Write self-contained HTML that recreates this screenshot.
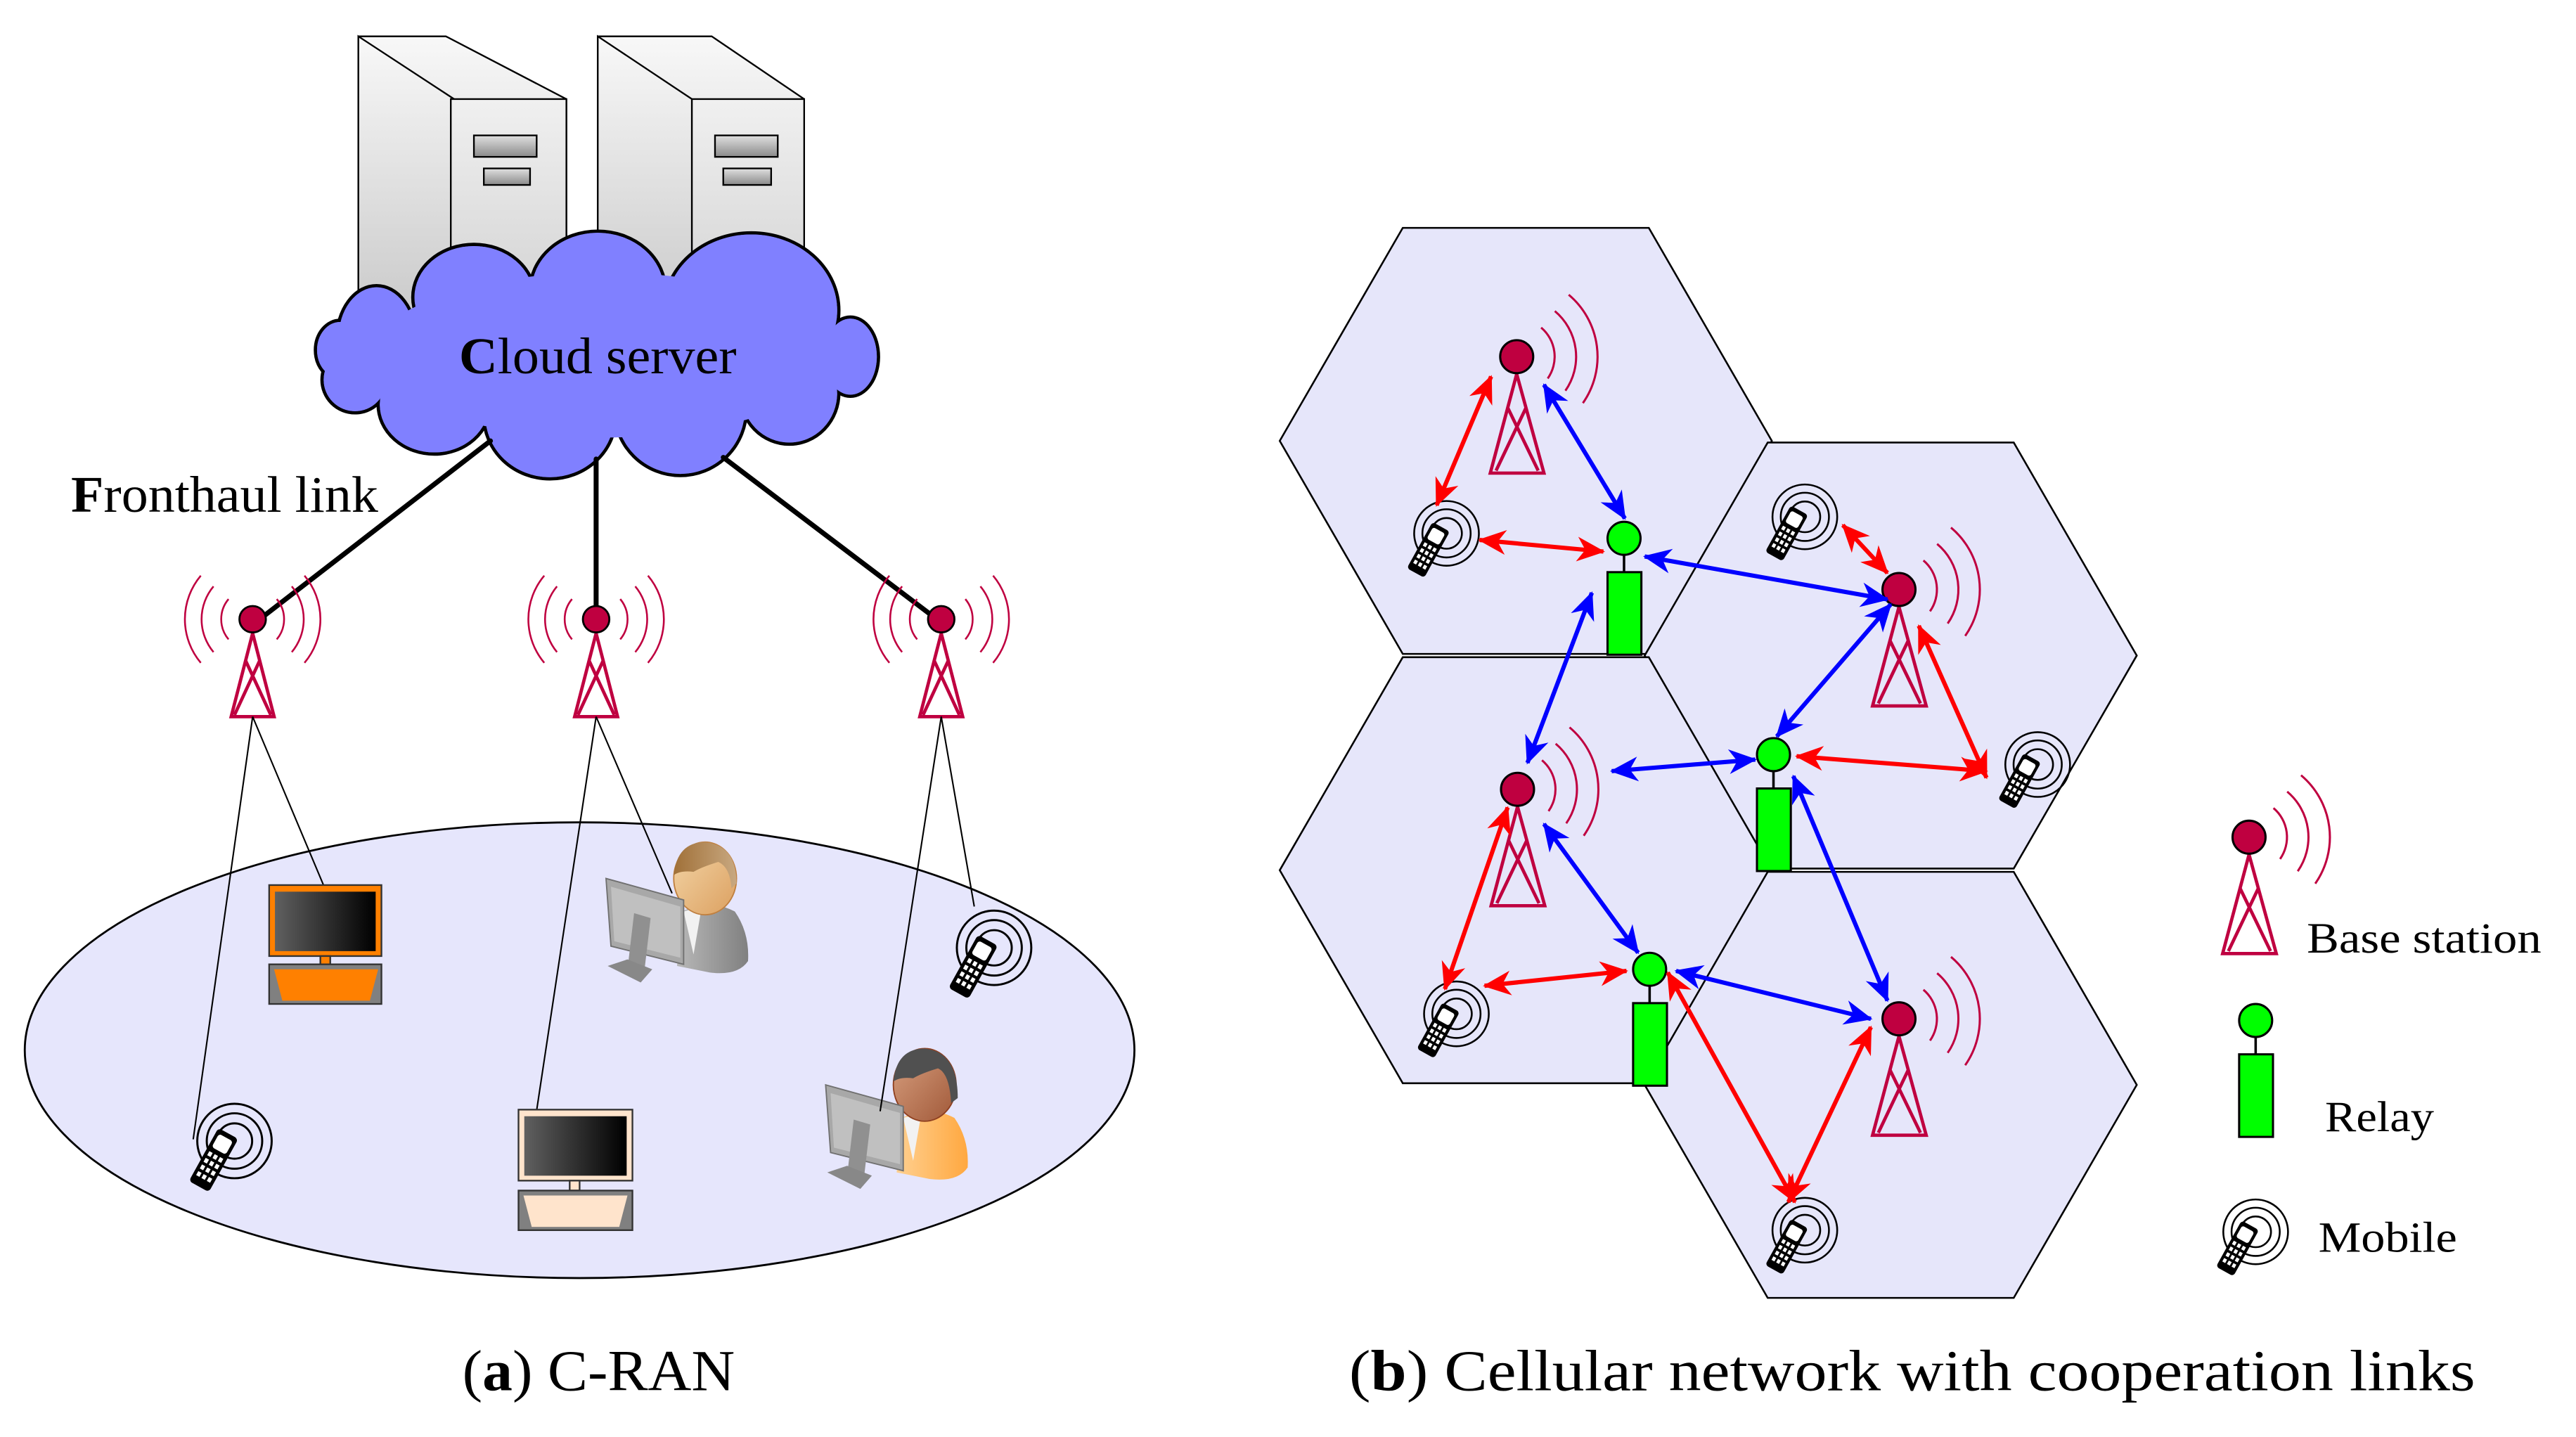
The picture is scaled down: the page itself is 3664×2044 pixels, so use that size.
<!DOCTYPE html>
<html><head><meta charset="utf-8"><style>html,body{margin:0;padding:0;background:#fff}svg{display:block}</style></head>
<body>
<svg xmlns="http://www.w3.org/2000/svg" width="3664" height="2044" viewBox="0 0 1560 870.25" preserveAspectRatio="none" font-family="'Liberation Serif', serif">
<defs>
<linearGradient id="srvL" x1="0" y1="0" x2="0" y2="1"><stop offset="0" stop-color="#f8f8f8"/><stop offset="1" stop-color="#c8c8c8"/></linearGradient>
<linearGradient id="srvF" x1="0" y1="0" x2="0" y2="1"><stop offset="0" stop-color="#f0f0f0"/><stop offset="1" stop-color="#d0d0d0"/></linearGradient>
<linearGradient id="slot" x1="0" y1="0" x2="0" y2="1"><stop offset="0" stop-color="#e0e0e0"/><stop offset="1" stop-color="#8a8a8a"/></linearGradient>
<linearGradient id="scr" x1="0" y1="0" x2="1" y2="0"><stop offset="0" stop-color="#606060"/><stop offset="1" stop-color="#000"/></linearGradient>
<linearGradient id="gray" x1="0" y1="0" x2="1" y2="0"><stop offset="0" stop-color="#b8b8b8"/><stop offset="1" stop-color="#808080"/></linearGradient>
<linearGradient id="skin1" x1="0" y1="0" x2="1" y2="1"><stop offset="0" stop-color="#f3d6a8"/><stop offset="1" stop-color="#dca060"/></linearGradient>
<linearGradient id="skin2" x1="0" y1="0" x2="1" y2="1"><stop offset="0" stop-color="#d8a080"/><stop offset="1" stop-color="#a05838"/></linearGradient>
<linearGradient id="hair1" x1="0" y1="0" x2="1" y2="0"><stop offset="0" stop-color="#a07038"/><stop offset="1" stop-color="#c8a880"/></linearGradient>
<linearGradient id="orng" x1="0" y1="0" x2="1" y2="0"><stop offset="0" stop-color="#ffd090"/><stop offset="1" stop-color="#ffa840"/></linearGradient>
<marker id="ar" viewBox="0 -8 17 16" refX="16" refY="0" markerWidth="17" markerHeight="16" markerUnits="userSpaceOnUse" orient="auto-start-reverse"><path d="M17,0 L0,-7.5 L5,0 L0,7.5 z" fill="#ff0000"/></marker>
<marker id="ab" viewBox="0 -8 17 16" refX="16" refY="0" markerWidth="17" markerHeight="16" markerUnits="userSpaceOnUse" orient="auto-start-reverse"><path d="M17,0 L0,-7.5 L5,0 L0,7.5 z" fill="#0000ff"/></marker>
<g id="mob">
 <circle r="19.6" fill="none" stroke="#000" stroke-width="1.1"/>
 <circle r="14.6" fill="none" stroke="#000" stroke-width="1.1"/>
 <circle r="9.3" fill="none" stroke="#000" stroke-width="1.1"/>
 <g transform="translate(-11,10) rotate(29)">
  <rect x="-6" y="-16" width="12" height="32" rx="2" fill="#000"/>
  <rect x="-4.2" y="-13.5" width="8.4" height="8" rx="1.5" fill="#fff"/>
  <g fill="#fff">
   <rect x="-4.2" y="-3" width="2" height="2.4"/><rect x="-1" y="-3" width="2" height="2.4"/><rect x="2.2" y="-3" width="2" height="2.4"/>
   <rect x="-4.2" y="1" width="2" height="2.4"/><rect x="-1" y="1" width="2" height="2.4"/><rect x="2.2" y="1" width="2" height="2.4"/>
   <rect x="-4.2" y="5" width="2" height="2.4"/><rect x="-1" y="5" width="2" height="2.4"/><rect x="2.2" y="5" width="2" height="2.4"/>
   <rect x="-4.2" y="9" width="2" height="2.4"/><rect x="-1" y="9" width="2" height="2.4"/><rect x="2.2" y="9" width="2" height="2.4"/>
  </g>
 </g>
</g>
<g id="bsR">
 <g fill="none" stroke="#bf0040" stroke-width="1.3">
  <path d="M14.8,-17.6 A23,23 0 0 1 18.8,13.2"/>
  <path d="M23.1,-27.6 A36,36 0 0 1 29.5,20.6"/>
  <path d="M31.5,-37.5 A49,49 0 0 1 40.1,28.1"/>
 </g>
 <g fill="none" stroke="#bf0040" stroke-width="2">
  <path d="M0,10.5 L-16,70.5 L16.5,70.5 Z"/>
  <path d="M-5.4,31 L13,69 M5.6,31 L-12.5,69"/>
 </g>
 <circle r="10" fill="#bf0040" stroke="#000" stroke-width="1.3"/>
</g>
<g id="bsL">
 <g fill="none" stroke="#bf0040" stroke-width="1.1">
  <path d="M14.6,-12.2 A19,19 0 0 1 14.6,12.2"/>
  <path d="M23.7,-19.9 A31,31 0 0 1 23.7,19.9"/>
  <path d="M31.4,-26.4 A41,41 0 0 1 31.4,26.4"/>
  <path d="M-14.6,-12.2 A19,19 0 0 0 -14.6,12.2"/>
  <path d="M-23.7,-19.9 A31,31 0 0 0 -23.7,19.9"/>
  <path d="M-31.4,-26.4 A41,41 0 0 0 -31.4,26.4"/>
 </g>
 <g fill="none" stroke="#bf0040" stroke-width="2">
  <path d="M0,8.5 L-13,59 L13,59 Z"/>
  <path d="M-4.3,25 L11,58 M4.3,25 L-11,58"/>
 </g>
 <circle r="8" fill="#bf0040" stroke="#000" stroke-width="1.2"/>
</g>
<g id="relay">
 <line x1="0" y1="10" x2="0" y2="20" stroke="#000" stroke-width="1.5"/>
 <rect x="-10" y="20.5" width="20.5" height="50" fill="#00ff00" stroke="#000" stroke-width="1.3"/>
 <circle r="10" fill="#00ff00" stroke="#000" stroke-width="1.3"/>
</g>
</defs>

<g stroke="#000" stroke-width="1">
 <path d="M217,22 L270,22 L343,60 L343,200 L217,200 Z" fill="url(#srvL)"/>
 <path d="M217,22 L275,60 L275,200 L217,200 Z" fill="url(#srvL)"/>
 <rect x="273" y="60" width="70" height="140" fill="url(#srvF)"/>
 <rect x="287" y="82" width="38" height="13" fill="url(#slot)"/>
 <rect x="293" y="102" width="28" height="10" fill="url(#slot)"/>
 <path d="M362,22 L431,22 L487,60 L487,200 L362,200 Z" fill="url(#srvL)"/>
 <path d="M362,22 L419,60 L419,200 L362,200 Z" fill="url(#srvL)"/>
 <rect x="419" y="60" width="68" height="140" fill="url(#srvF)"/>
 <rect x="433" y="82" width="38" height="13" fill="url(#slot)"/>
 <rect x="438" y="102" width="29" height="10" fill="url(#slot)"/>
</g>

<g fill="#8080ff" stroke="#000" stroke-width="2">
 <ellipse cx="287" cy="180" rx="37" ry="32"/>
 <ellipse cx="362" cy="176" rx="41" ry="36"/>
 <ellipse cx="455" cy="188" rx="53" ry="47"/>
 <ellipse cx="228" cy="205" rx="24" ry="32"/>
 <ellipse cx="206" cy="212" rx="15" ry="18"/>
 <ellipse cx="215" cy="230" rx="20" ry="20"/>
 <ellipse cx="263" cy="245" rx="34" ry="30"/>
 <ellipse cx="333" cy="252" rx="40" ry="38"/>
 <ellipse cx="412" cy="248" rx="40" ry="40"/>
 <ellipse cx="478" cy="238" rx="30" ry="31"/>
 <ellipse cx="515" cy="216" rx="17" ry="24"/>
</g>
<g fill="#8080ff">
 <ellipse cx="287" cy="180" rx="36" ry="31"/>
 <ellipse cx="362" cy="176" rx="40" ry="35"/>
 <ellipse cx="455" cy="188" rx="52" ry="46"/>
 <ellipse cx="228" cy="205" rx="23" ry="31"/>
 <ellipse cx="206" cy="212" rx="14" ry="17"/>
 <ellipse cx="215" cy="230" rx="19" ry="19"/>
 <ellipse cx="263" cy="245" rx="33" ry="29"/>
 <ellipse cx="333" cy="252" rx="39" ry="37"/>
 <ellipse cx="412" cy="248" rx="39" ry="39"/>
 <ellipse cx="478" cy="238" rx="29" ry="30"/>
 <ellipse cx="515" cy="216" rx="16" ry="23"/>
 <ellipse cx="365" cy="215" rx="140" ry="50"/>
</g>
<text x="278" y="226" font-size="31" textLength="168" lengthAdjust="spacingAndGlyphs"><tspan font-weight="bold">C</tspan>loud server</text>
<text x="43" y="310" font-size="31" textLength="186" lengthAdjust="spacingAndGlyphs"><tspan font-weight="bold">F</tspan>ronthaul link</text>

<g stroke="#000" stroke-width="3" stroke-linecap="round">
 <line x1="297" y1="267" x2="156" y2="376"/>
 <line x1="361" y1="278" x2="361" y2="370"/>
 <line x1="438" y1="277" x2="566" y2="374"/>
</g>

<ellipse cx="351" cy="636" rx="336" ry="138" fill="#e6e6fc" stroke="#000" stroke-width="1.2"/>

<use href="#bsL" x="153" y="375"/>
<use href="#bsL" x="361" y="375"/>
<use href="#bsL" x="570" y="375"/>

<g stroke="#000" stroke-width="0.9">
 <line x1="153" y1="434" x2="117" y2="690"/>
 <line x1="153" y1="434" x2="198" y2="541"/>
 <line x1="361" y1="434" x2="324" y2="679"/>
 <line x1="361" y1="434" x2="407" y2="541"/>
 <line x1="570" y1="434" x2="590" y2="549"/>
</g>

<g stroke="#333" stroke-width="1">
 <rect x="163" y="536" width="68" height="43" fill="#ff8000"/>
 <rect x="166.5" y="540" width="61" height="36" fill="url(#scr)" stroke="none"/>
 <rect x="194" y="579" width="6" height="5" fill="#ff8000"/>
 <rect x="163" y="584" width="68" height="24" fill="#808080"/>
 <path d="M166,587 L229,587 L224,606 L171,606 Z" fill="#ff8000" stroke="none"/>
 <rect x="314" y="672" width="69" height="43" fill="#ffe4cc"/>
 <rect x="317.5" y="676" width="62" height="36" fill="url(#scr)" stroke="none"/>
 <rect x="345" y="715" width="6" height="6" fill="#ffe4cc"/>
 <rect x="314" y="721" width="69" height="24" fill="#808080"/>
 <path d="M317,724 L380,724 L375,743 L322,743 Z" fill="#ffe4cc" stroke="none"/>
</g>

<g>
 <path d="M410,585 L413,552 Q430,544 445,552 Q454,565 453,582 Q447,591 430,589 Z" fill="url(#gray)"/>
 <path d="M414,552 L425,549 L420,578 Z" fill="#f2f2f2"/>
 <ellipse cx="427" cy="532" rx="19" ry="22" fill="url(#skin1)" stroke="#c08040" stroke-width="0.8"/>
 <path d="M408,530 Q410,510 427,510 Q446,512 446,535 L443,538 Q442,525 435,522 Q425,525 420,528 Q412,527 408,530 Z" fill="url(#hair1)"/>
 <path d="M367,532 L414,545 L414,584 L370,573 Z" fill="#a8a8a8" stroke="#707070" stroke-width="0.8"/>
 <path d="M370,537 L412,549 L412,580 L372,570 Z" fill="#c0c0c0"/>
 <path d="M384,553 L394,556 L390,590 L380,587 Z" fill="#909090"/>
 <path d="M368,585 L380,581 L395,587 L388,595 Z" fill="#888"/>
</g>
<g>
 <path d="M543,710 L546,677 Q563,669 578,677 Q587,690 586,707 Q580,716 563,714 Z" fill="url(#orng)"/>
 <path d="M547,677 L558,674 L553,703 Z" fill="#f2f2f2"/>
 <ellipse cx="560" cy="657" rx="19" ry="22" fill="url(#skin2)" stroke="#904020" stroke-width="0.8"/>
 <path d="M541,655 Q543,635 560,635 Q580,637 580,665 L576,668 Q575,650 568,647 Q558,650 553,653 Q545,652 541,655 Z" fill="#505050"/>
 <path d="M500,657 L547,670 L547,709 L503,698 Z" fill="#a8a8a8" stroke="#707070" stroke-width="0.8"/>
 <path d="M503,662 L545,674 L545,705 L505,695 Z" fill="#c0c0c0"/>
 <path d="M517,678 L527,681 L523,715 L513,712 Z" fill="#909090"/>
 <path d="M501,710 L513,706 L528,712 L521,720 Z" fill="#888"/>
</g>
<line x1="570" y1="434" x2="533" y2="673" stroke="#000" stroke-width="0.9"/>

<use href="#mob" transform="translate(142,691) scale(1.15)"/>
<use href="#mob" transform="translate(602,574) scale(1.15)"/>

<g fill="#e6e6fa" stroke="#000" stroke-width="1.1">
 <polygon points="775,267 849.5,138 998.5,138 1073,267 998.5,396 849.5,396"/>
 <polygon points="996,397 1070.5,268 1219.5,268 1294,397 1219.5,526 1070.5,526"/>
 <polygon points="775,527 849.5,398 998.5,398 1073,527 998.5,656 849.5,656"/>
 <polygon points="996,657 1070.5,528 1219.5,528 1294,657 1219.5,786 1070.5,786"/>
</g>

<use href="#bsR" x="918.5" y="216"/>
<use href="#bsR" x="1150" y="357"/>
<use href="#bsR" x="919" y="478"/>
<use href="#bsR" x="1150" y="617"/>
<use href="#bsR" x="1362" y="507"/>
<use href="#relay" x="983.5" y="326"/>
<use href="#relay" x="1074" y="457"/>
<use href="#relay" x="999" y="587"/>
<use href="#relay" x="1366" y="618"/>
<use href="#mob" x="876" y="323"/>
<use href="#mob" x="1093" y="313"/>
<use href="#mob" x="1234" y="463"/>
<use href="#mob" x="882" y="614"/>
<use href="#mob" x="1093" y="745"/>
<use href="#mob" x="1366" y="746"/>

<g stroke-width="2.6" fill="none">
 <g stroke="#ff0000" marker-start="url(#ar)" marker-end="url(#ar)">
  <line x1="903" y1="228" x2="870" y2="306"/>
  <line x1="896" y1="327" x2="971" y2="334"/>
  <line x1="1116" y1="318" x2="1143" y2="347"/>
  <line x1="1162" y1="379" x2="1203" y2="471"/>
  <line x1="1088" y1="458" x2="1203" y2="467"/>
  <line x1="913" y1="489" x2="875" y2="599"/>
  <line x1="899" y1="597" x2="985" y2="588"/>
  <line x1="1010" y1="589" x2="1087" y2="728"/>
  <line x1="1133" y1="622" x2="1083" y2="728"/>
 </g>
 <g stroke="#0000ff" marker-start="url(#ab)" marker-end="url(#ab)">
  <line x1="935" y1="233" x2="984" y2="314"/>
  <line x1="996" y1="337" x2="1143" y2="363"/>
  <line x1="1145" y1="366" x2="1076" y2="446"/>
  <line x1="1063" y1="460" x2="976" y2="467"/>
  <line x1="964" y1="359" x2="925" y2="462"/>
  <line x1="935" y1="499" x2="992" y2="577"/>
  <line x1="1015" y1="588" x2="1133" y2="617"/>
  <line x1="1086" y1="470" x2="1143" y2="606"/>
 </g>
</g>

<text x="1397" y="577" font-size="26" textLength="142" lengthAdjust="spacingAndGlyphs">Base station</text>
<text x="1408" y="685" font-size="26" textLength="66" lengthAdjust="spacingAndGlyphs">Relay</text>
<text x="1404" y="758" font-size="26" textLength="84" lengthAdjust="spacingAndGlyphs">Mobile</text>

<text x="280" y="842" font-size="35" textLength="165" lengthAdjust="spacingAndGlyphs">(<tspan font-weight="bold">a</tspan>) C-RAN</text>
<text x="817" y="842" font-size="35" textLength="682" lengthAdjust="spacingAndGlyphs">(<tspan font-weight="bold">b</tspan>) Cellular network with cooperation links</text>
</svg>
</body></html>
